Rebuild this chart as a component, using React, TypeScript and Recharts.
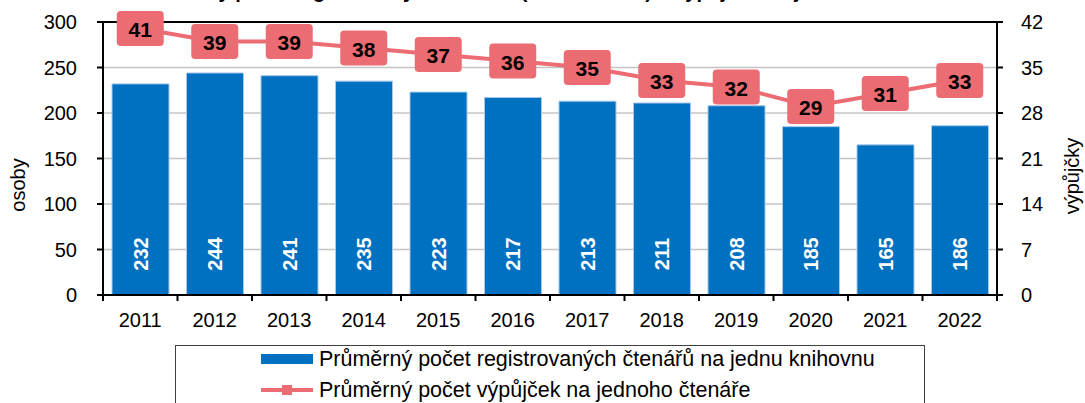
import React from "react"
import {
  ComposedChart,
  Bar,
  Line,
  XAxis,
  YAxis,
  CartesianGrid,
  Legend,
  LabelList,
  ReferenceLine,
} from "recharts"

const years = ["2011", "2012", "2013", "2014", "2015", "2016", "2017", "2018", "2019", "2020", "2021", "2022"]
const readersPerLibrary = [232, 244, 241, 235, 223, 217, 213, 211, 208, 185, 165, 186]
const loansPerReader = [41, 39, 39, 38, 37, 36, 35, 33, 32, 29, 31, 33]
const readerTicks = [0, 50, 100, 150, 200, 250, 300]
const loanTicks = [0, 7, 14, 21, 28, 35, 42]

const chartTitle = "Průměrný počet registrovaných čtenářů (na knihovnu) a výpůjček na jednoho čtenáře"
const barName = "Průměrný počet registrovaných čtenářů na jednu knihovnu"
const lineName = "Průměrný počet výpůjček na jednoho čtenáře"

const data = years.map((year, i) => ({
  year,
  readers: readersPerLibrary[i],
  loans: loansPerReader[i],
}))

const W = 1085
const H = 403
const BLUE = "#0070C0"
const PINK = "#EC6C74"
const FONT = '"Liberation Sans", Arial, sans-serif'
// plot runs from x=103 to x=997
const band = (997 - 103) / years.length

function YearTick(props: any) {
  const { x, y, payload, index } = props
  const axisY = y - 6
  const left = x - band / 2
  const right = x + band / 2
  return (
    <g>
      <line x1={left} x2={left} y1={axisY} y2={axisY + 6} stroke="#000" strokeWidth={2} />
      {index === years.length - 1 && (
        <line x1={right} x2={right} y1={axisY} y2={axisY + 6} stroke="#000" strokeWidth={2} />
      )}
      <text x={x} y={axisY + 32} textAnchor="middle" fontSize={20} fill="#000" fontFamily={FONT}>
        {payload.value}
      </text>
    </g>
  )
}

function BarValue(props: any) {
  const { x, y, width, height, value } = props
  const cx = Number(x) + Number(width) / 2
  const cy = Number(y) + Number(height) - 41
  return (
    <text
      x={cx}
      y={cy}
      transform={`rotate(-90 ${cx} ${cy})`}
      textAnchor="middle"
      dominantBaseline="central"
      fill="#fff"
      fontWeight="bold"
      fontSize={20}
      fontFamily={FONT}
    >
      {value}
    </text>
  )
}

function LoanBox(props: any) {
  const { cx, cy, payload } = props
  return (
    <g>
      <rect x={cx - 23.5} y={cy - 17.5} width={47} height={35} rx={4} fill={PINK} />
      <text
        x={cx}
        y={cy + 1}
        textAnchor="middle"
        dominantBaseline="central"
        fontWeight="bold"
        fontSize={21}
        fill="#000"
        fontFamily={FONT}
      >
        {payload.loans}
      </text>
    </g>
  )
}

function AxisTitle(props: any) {
  const { posX, posY, caption } = props
  return (
    <text
      x={posX}
      y={posY}
      transform={`rotate(-90 ${posX} ${posY})`}
      textAnchor="middle"
      dominantBaseline="central"
      fontSize={20}
      fill="#000"
      fontFamily={FONT}
    >
      {caption}
    </text>
  )
}

function LegendBox() {
  const text: React.CSSProperties = {
    position: "absolute",
    left: 143,
    fontSize: 21.5,
    lineHeight: "22px",
    fontFamily: FONT,
    color: "#000",
    whiteSpace: "nowrap",
  }
  return (
    <div style={{ position: "relative", height: 58, width: W }}>
      <div
        style={{
          position: "absolute",
          left: 175,
          top: 0,
          width: 750,
          height: 66,
          border: "1.5px solid #404040",
          boxSizing: "border-box",
          background: "#fff",
        }}
      >
        <div style={{ position: "absolute", left: 85, top: 8, width: 52, height: 10, background: BLUE }} />
        <div style={{ ...text, top: 2 }}>{barName}</div>
        <div style={{ position: "absolute", left: 85, top: 42, width: 52, height: 4, background: PINK }} />
        <div style={{ position: "absolute", left: 106, top: 39, width: 10, height: 10, background: PINK }} />
        <div style={{ ...text, top: 33 }}>{lineName}</div>
      </div>
    </div>
  )
}

export default function App() {
  return (
    <div style={{ position: "absolute", left: 0, top: 0, width: W, height: H, overflow: "hidden", background: "#fff" }}>
      <ComposedChart width={W} height={H} data={data} margin={{ top: 22, right: 0, bottom: 0, left: 0 }}>
        <CartesianGrid yAxisId="left" vertical={false} stroke="#C4C4C4" strokeWidth={1.5} />
        <XAxis
          dataKey="year"
          height={50}
          interval={0}
          tickLine={false}
          tickSize={6}
          tickMargin={0}
          axisLine={{ stroke: "#000", strokeWidth: 2 }}
          tick={<YearTick />}
        />
        <YAxis
          yAxisId="left"
          width={103}
          domain={[0, 300]}
          ticks={readerTicks}
          interval={0}
          tickSize={6}
          tickMargin={20}
          axisLine={{ stroke: "#000", strokeWidth: 2 }}
          tickLine={{ stroke: "#000", strokeWidth: 2 }}
          tick={{ fontSize: 20, fill: "#000", fontFamily: FONT }}
          label={<AxisTitle posX={18} posY={185} caption="osoby" />}
        />
        <YAxis
          yAxisId="right"
          orientation="right"
          width={88}
          domain={[0, 42]}
          ticks={loanTicks}
          interval={0}
          tickSize={6}
          tickMargin={18}
          axisLine={{ stroke: "#000", strokeWidth: 2 }}
          tickLine={{ stroke: "#000", strokeWidth: 2 }}
          tick={{ fontSize: 20, fill: "#000", fontFamily: FONT, textAnchor: "start" }}
          label={<AxisTitle posX={1072} posY={176} caption="výpůjčky" />}
        />
        <ReferenceLine yAxisId="left" y={300} stroke="#000" strokeWidth={2} />
        <Bar
          yAxisId="left"
          dataKey="readers"
          name={barName}
          fill={BLUE}
          stroke="#A8C8EA"
          strokeWidth={1}
          barSize={57}
          isAnimationActive={false}
        >
          <LabelList dataKey="readers" content={<BarValue />} />
        </Bar>
        <Line
          yAxisId="right"
          dataKey="loans"
          name={lineName}
          stroke={PINK}
          strokeWidth={4}
          dot={(p: any) => <LoanBox key={`loan-${p.index}`} {...p} />}
          activeDot={false}
          isAnimationActive={false}
        />
        <Legend verticalAlign="bottom" wrapperStyle={{ left: 0, bottom: 0, width: W }} content={<LegendBox />} />
      </ComposedChart>
      <div
        style={{
          position: "absolute",
          left: 0,
          top: -19,
          width: W,
          textAlign: "center",
          fontSize: 20,
          lineHeight: "20px",
          fontWeight: "bold",
          fontFamily: FONT,
          color: "#000",
          pointerEvents: "none",
        }}
      >
        {chartTitle}
      </div>
    </div>
  )
}
